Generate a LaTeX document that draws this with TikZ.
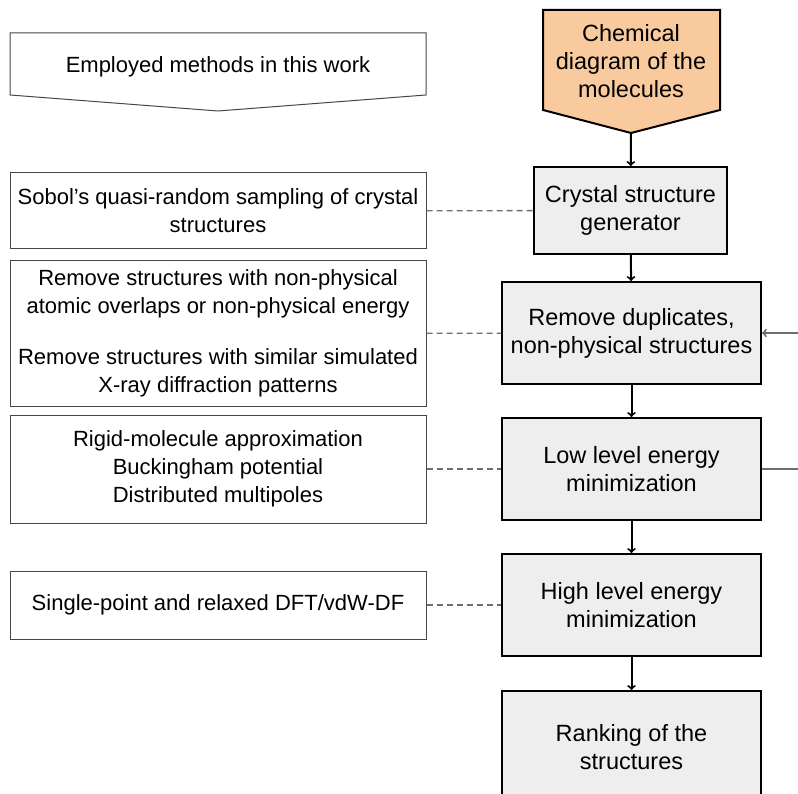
\documentclass[tikz,border=0pt]{standalone}
\usepackage{fontspec}
\setmainfont{Liberation Sans}
\usepackage{xcolor}
\usetikzlibrary{shapes,arrows,positioning}
\definecolor{chemorange}{RGB}{248,202,158}
\definecolor{stepgray}{RGB}{238,238,238}
\definecolor{methodgray}{RGB}{70,70,70}
\definecolor{loopgray}{RGB}{110,110,110}

\begin{document}
\begin{tikzpicture}[x=1pt, y=-1pt, font=\fontsize{22}{28}\selectfont]
    \tikzstyle{stepbox} = [rectangle, minimum width=259pt, minimum height=102pt, align=center, draw=black, line width=2pt, fill=stepgray, font=\fontsize{23.5}{28}\selectfont]
    \tikzstyle{methodbox} = [rectangle, minimum width=416pt, align=center, draw=methodgray, line width=1pt, fill=white]
    \tikzstyle{arrow} = [line width=2pt,->,>=to,black]
    \tikzstyle{link} = [line width=1.3pt,dash pattern=on 6pt off 4pt,loopgray]
    \tikzstyle{feedback} = [line width=2pt,loopgray]

    \useasboundingbox (0,0) rectangle (798,794);
    \clip (0,0) rectangle (798,794);

    % banner shapes
    \draw [methodgray, line width=1pt, fill=white] (10,33) -- (426,33) -- (426,95) -- (218,111) -- (10,95) -- cycle;
    \node (banner) at (218,67) {Employed methods in this work};
    \draw [black, line width=2pt, fill=chemorange] (543,10) -- (720,10) -- (720,110) -- (631,133) -- (543,110) -- cycle;
    \node (chem) [align=center, font=\fontsize{23.5}{28}\selectfont] at (631,61) {Chemical\\diagram of the\\molecules};
    \coordinate (chemtip) at (631,133);

    % workflow
    \node (crystal) [stepbox, minimum width=193pt, minimum height=87pt] at (630.5,210.5) {Crystal structure\\generator};
    \node (dup) [stepbox] at (631.5,333) {Remove duplicates,\\non-physical structures};
    \node (low) [stepbox] at (631.5,469) {Low level energy\\minimization};
    \node (high) [stepbox] at (631.5,605) {High level energy\\minimization};
    \node (rank) [stepbox, minimum height=112pt] at (631.5,747) {Ranking of the\\structures};

    % methods
    \node (sobol) [methodbox, minimum height=76pt] at (218,211) {Sobol’s quasi-random sampling of crystal\\structures};
    \node (filter) [methodbox, minimum height=145pt] at (218,333.5) {Remove structures with non-physical\\atomic overlaps or non-physical energy\\[23pt]Remove structures with similar simulated\\X-ray diffraction patterns};
    \node (rigid) [methodbox, minimum height=108pt] at (218,469) {Rigid-molecule approximation\\Buckingham potential\\Distributed multipoles};
    \node (dft) [methodbox, minimum height=68pt] at (218,605) {Single-point and relaxed DFT/vdW-DF};

    \draw [arrow] (chemtip) -- (crystal);
    \draw [arrow] (crystal) -- (dup);
    \draw [arrow] (dup) -- (low);
    \draw [arrow] (low) -- (high);
    \draw [arrow] (high) -- (rank);

    \draw [link] (sobol) -- (crystal);
    \draw [link] (filter) -- (dup);
    \draw [link] (rigid) -- (low);
    \draw [link] (dft) -- (high);

    % loop back, leaves the frame
    \coordinate (loopin) at (798,333);
    \coordinate (loopout) at (798,469);
    \draw [feedback,->,>=to] (loopin) -- (dup);
    \draw [feedback] (low) -- (loopout);
\end{tikzpicture}
\end{document}
